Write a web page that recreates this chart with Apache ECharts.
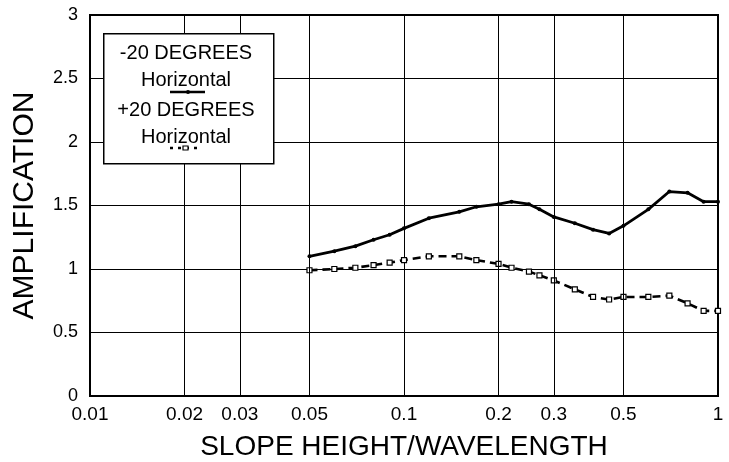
<!DOCTYPE html>
<html><head><meta charset="utf-8">
<script src="https://cdn.jsdelivr.net/npm/echarts@6/dist/echarts.min.js"></script>
<style>html,body{margin:0;padding:0;background:#fff}#c{width:729px;height:462px}</style>
</head><body><div id="c"></div>
<script>
const xValues = [0.05,0.06,0.07,0.08,0.09,0.1,0.12,0.15,0.17,0.2,0.22,0.25,0.27,0.3,0.35,0.4,0.45,0.5,0.6,0.7,0.8,0.9,1.0];
const minus20 = [1.10,1.14,1.18,1.23,1.27,1.32,1.40,1.45,1.49,1.51,1.53,1.51,1.47,1.41,1.36,1.31,1.28,1.34,1.47,1.61,1.60,1.53,1.53];
const plus20  = [0.99,1.00,1.01,1.03,1.05,1.07,1.10,1.10,1.07,1.04,1.01,0.98,0.95,0.91,0.84,0.78,0.76,0.78,0.78,0.79,0.73,0.67,0.67];
const extraXTicks = [0.02,0.03,0.05,0.2,0.3,0.5];
const yTicks = [0,0.5,1,1.5,2,2.5,3];
const seriesNames = ['-20 DEGREES Horizontal','+20 DEGREES Horizontal'];

const FONT = 'Liberation Sans, Arial, Helvetica, sans-serif';
const chart = echarts.init(document.getElementById('c'));
const pair = (ys) => xValues.map((x,i)=>[x, ys[i]]);

chart.setOption({
  backgroundColor:'#fff',
  animation:false,
  textStyle:{fontFamily:FONT,color:'#000'},
  grid:{left:90,right:11,top:15,bottom:66,containLabel:false,outerBoundsMode:'none',
        show:true,borderColor:'#000',borderWidth:2,backgroundColor:'transparent'},
  xAxis:{
    type:'log',logBase:10,min:0.01,max:1,
    name:'SLOPE HEIGHT/WAVELENGTH',nameLocation:'middle',nameGap:51,
    nameTextStyle:{fontSize:28,color:'#000',fontFamily:FONT,verticalAlign:'middle'},
    axisLine:{lineStyle:{color:'#000',width:2}},
    axisTick:{show:false},
    axisLabel:{color:'#000',fontSize:19,margin:9,fontFamily:FONT},
    splitLine:{show:true,lineStyle:{color:'#000',width:1}},
    minorTick:{show:false},minorSplitLine:{show:false}
  },
  yAxis:{
    type:'value',min:yTicks[0],max:yTicks[yTicks.length-1],interval:0.5,
    name:'AMPLIFICATION',nameLocation:'middle',nameGap:65,
    nameTextStyle:{fontSize:30,color:'#000',fontFamily:FONT,verticalAlign:'middle'},
    axisLine:{show:true,lineStyle:{color:'#000',width:2}},
    axisTick:{show:false},
    axisLabel:{color:'#000',fontSize:18,margin:12,fontFamily:FONT},
    splitLine:{show:true,lineStyle:{color:'#000',width:1}}
  },
  series:[
    {
      name:seriesNames[0],type:'line',data:pair(minus20),
      symbol:'circle',symbolSize:4,
      itemStyle:{color:'#000'},
      lineStyle:{color:'#000',width:2.8},
      markLine:{
        silent:true,symbol:['none','none'],animation:false,
        lineStyle:{color:'#000',width:1,type:'solid'},
        label:{show:true,position:'start',distance:9,color:'#000',fontSize:19,fontFamily:FONT,
          formatter:(p)=>String(p.value)},
        data:extraXTicks.map(v=>({xAxis:v}))
      },
      z:3
    },
    {
      name:seriesNames[1],type:'line',data:pair(plus20),
      symbol:'rect',symbolSize:5,
      itemStyle:{color:'#fff',borderColor:'#000',borderWidth:1.2},
      lineStyle:{color:'#000',width:2.6,type:[8,5]},
      z:3
    }
  ],
  graphic:[
    {type:'rect',left:103,top:33,z:10,shape:{width:170,height:130},style:{fill:'#fff',stroke:'#000',lineWidth:1.5}},
    {type:'text',z:11,x:186,y:53,style:{text:'-20 DEGREES',font:'20px '+FONT,fill:'#000',textAlign:'center',textVerticalAlign:'middle'}},
    {type:'text',z:11,x:186,y:80,style:{text:'Horizontal',font:'20px '+FONT,fill:'#000',textAlign:'center',textVerticalAlign:'middle'}},
    {type:'line',z:11,shape:{x1:170,y1:92,x2:205,y2:92},style:{stroke:'#000',lineWidth:2.5}},
    {type:'circle',z:12,shape:{cx:188,cy:92,r:2},style:{fill:'#000'}},
    {type:'text',z:11,x:186,y:110,style:{text:'+20 DEGREES',font:'20px '+FONT,fill:'#000',textAlign:'center',textVerticalAlign:'middle'}},
    {type:'text',z:11,x:186,y:137,style:{text:'Horizontal',font:'20px '+FONT,fill:'#000',textAlign:'center',textVerticalAlign:'middle'}},
    {type:'line',z:11,shape:{x1:170,y1:148,x2:200,y2:148},style:{stroke:'#000',lineWidth:2.5,lineDash:[3,5]}},
    {type:'rect',z:12,shape:{x:183,y:146,width:5,height:4},style:{fill:'#fff',stroke:'#000',lineWidth:1.2}}
  ]
});
</script></body></html>
